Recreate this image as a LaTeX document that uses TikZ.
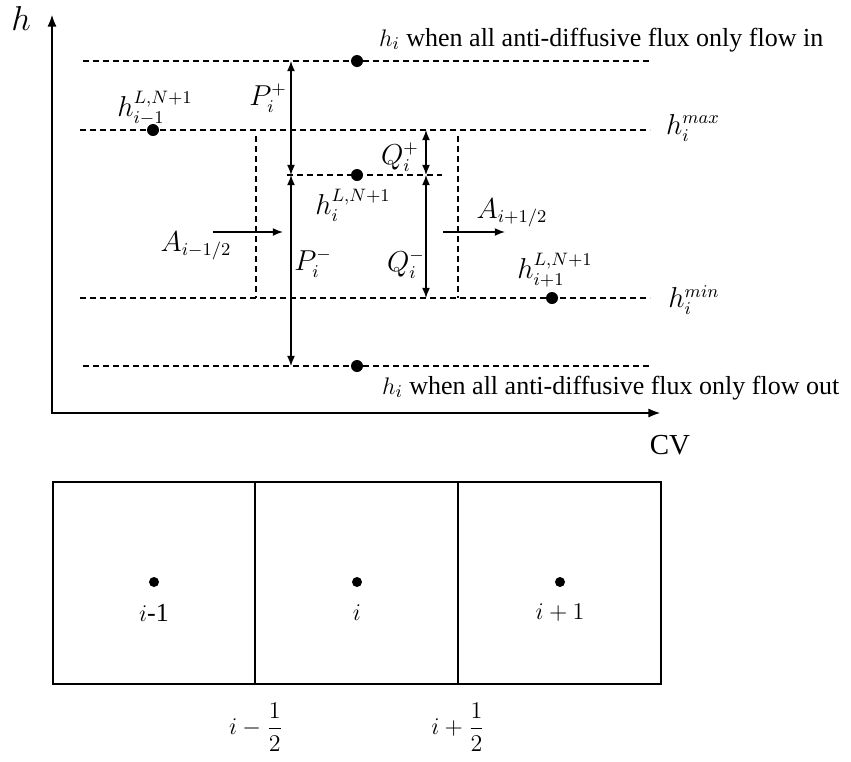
\documentclass[tikz,border=0pt]{standalone}
\usepackage{fontspec}
\setmainfont{Liberation Serif}
\usepackage{amsmath}
\usetikzlibrary{arrows.meta,positioning,calc}
\tikzset{
  levelLine/.style={dash pattern=on 3pt off 2pt, line width=0.55pt},
  levelDot/.style={circle, fill=black, inner sep=0pt, minimum size=6pt},
  cellDot/.style={circle, fill=black, inner sep=0pt, minimum size=5pt},
  gapArrow/.style={{Latex[length=1.8mm,width=1.4mm]}-{Latex[length=1.8mm,width=1.4mm]}, line width=0.6pt},
  fluxArrow/.style={-{Latex[length=1.8mm,width=1.4mm]}, line width=0.7pt},
  axisArrow/.style={{Latex[length=2.2mm,width=1.6mm]}-{Latex[length=2.2mm,width=1.6mm]}, line width=1.2pt},
  cellBox/.style={line width=1.4pt},
  mathLabel/.style={font=\fontsize{13.5}{16}\selectfont, inner sep=1pt}
}

\begin{document}
\begin{tikzpicture}[x=0.5pt,y=-0.5pt,font=\fontsize{13}{15}\selectfont]
  \useasboundingbox (0,0) rectangle (851,761);
  % axes
  \coordinate (hTip) at (52,14);
  \coordinate (origin) at (52,413);
  \coordinate (cvTip) at (661,413);
  \draw[axisArrow] (hTip) -- (origin) -- (cvTip);
  \node[font=\fontsize{18}{20}\selectfont] (hLab) at (21,18) {$h$};
  \node[font=\fontsize{14.5}{16}\selectfont] (cvLab) at (670,445) {CV};
  % levels
  \foreach \nm/\y/\xa in {in/61/83, max/130/80, min/298/80, out/366/83}
    \draw[levelLine] (\xa,\y) coordinate (\nm L) -- (650,\y) coordinate (\nm R);
  \draw[levelLine] (287,175) coordinate (midL) -- (442,175) coordinate (midR);
  \draw[levelLine] (256,136) coordinate (faceLT) -- (256,298) coordinate (faceLB);
  \draw[levelLine] (458,136) coordinate (faceRT) -- (458,298) coordinate (faceRB);
  \node[levelDot] (dotIn) at (357,61) {};
  \node[levelDot] (dotPrev) at (153,130) {};
  \node[levelDot] (dotMid) at (357,175) {};
  \node[levelDot] (dotNext) at (552,298) {};
  \node[levelDot] (dotOut) at (357,366) {};
  \node[anchor=west] (inText) at (372,40) {$h_i$ when all anti-diffusive flux only flow in};
  \node[anchor=west] (outText) at (375,388) {$h_i$ when all anti-diffusive flux only flow out};
  \node[mathLabel] (prevLab) at (155,108) {$h_{i-1}^{L,N+1}$};
  \node[mathLabel] (midLab) at (353,205) {$h_{i}^{L,N+1}$};
  \node[mathLabel] (nextLab) at (555,270) {$h_{i+1}^{L,N+1}$};
  \node[mathLabel] (maxLab) at (693,128) {$h_i^{max}$};
  \node[mathLabel] (minLab) at (694,300) {$h_i^{min}$};
  % limits
  \coordinate (pTop) at (291,61);
  \coordinate (pMid) at (291,175);
  \coordinate (pBot) at (291,366);
  \coordinate (qTop) at (426,130);
  \coordinate (qMid) at (426,175);
  \coordinate (qBot) at (426,298);
  \draw[gapArrow] (pTop) -- (pMid);
  \draw[gapArrow] (pMid) -- (pBot);
  \draw[gapArrow] (qTop) -- (qMid);
  \draw[gapArrow] (qMid) -- (qBot);
  \node[mathLabel] (pPlus) at (268,98) {$P_i^+$};
  \node[mathLabel] (pMinus) at (313,263) {$P_i^-$};
  \node[mathLabel] (qPlus) at (400,157) {$Q_i^+$};
  \node[mathLabel] (qMinus) at (406,264) {$Q_i^-$};
  % fluxes
  \coordinate (aLs) at (213,232);
  \coordinate (aLe) at (283,232);
  \coordinate (aRs) at (443,232);
  \coordinate (aRe) at (505,232);
  \draw[fluxArrow] (aLs) -- (aLe);
  \draw[fluxArrow] (aRs) -- (aRe);
  \node[mathLabel] (aLLab) at (196,246) {$A_{i-1/2}$};
  \node[mathLabel] (aRLab) at (512,213) {$A_{i+1/2}$};
  % control volumes
  \draw[cellBox] (53,482) rectangle (661,684);
  \draw[cellBox] (255,482) coordinate (faceL) -- (255,684) coordinate (faceLb);
  \draw[cellBox] (458,482) coordinate (faceR) -- (458,684) coordinate (faceRb);
  \node[cellDot] (cPrev) at (154,582) {};
  \node[cellDot] (cMid) at (357,582) {};
  \node[cellDot] (cNext) at (560,582) {};
  \node (cPrevLab) at (154,613) {$i$-1};
  \node (cMidLab) at (357,613) {$i$};
  \node (cNextLab) at (560,613) {$i+1$};
  \node (fLLab) at (256,727) {$i-\dfrac{1}{2}$};
  \node (fRLab) at (458,727) {$i+\dfrac{1}{2}$};
\end{tikzpicture}
\end{document}
